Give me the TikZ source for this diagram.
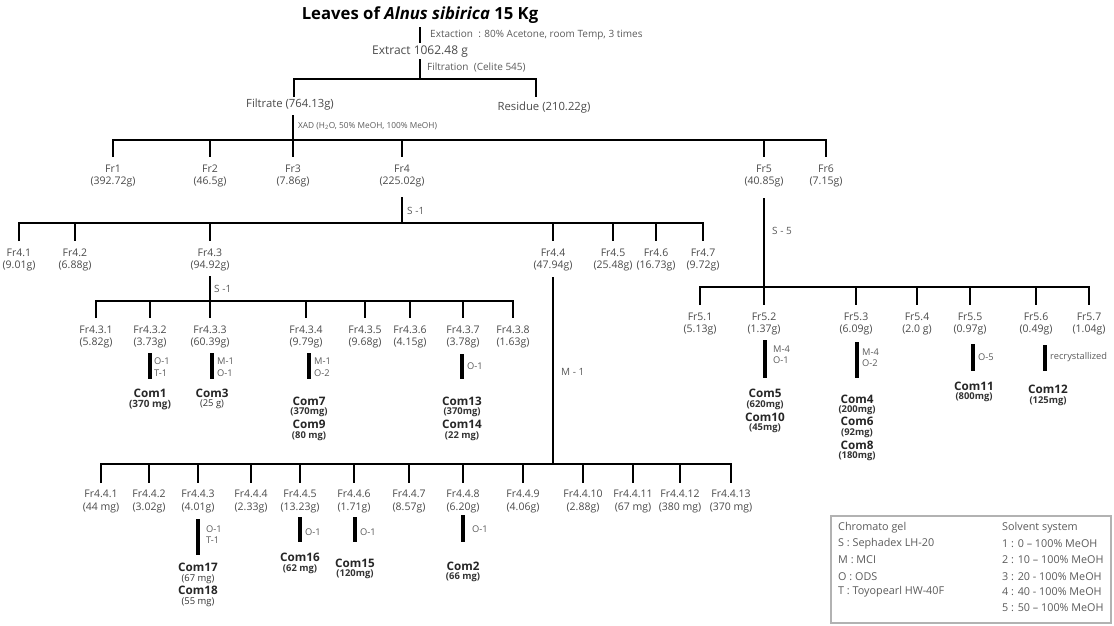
\documentclass[tikz,border=0pt]{standalone}
\usepackage{fontspec}
\setmainfont{Open Sans}
\usetikzlibrary{calc}
\definecolor{labc}{HTML}{4A4A4A}
\definecolor{stepc}{HTML}{5A5A5A}
\tikzset{
  fr/.style={font=\fontsize{10.5}{12.5}\selectfont, text=labc, align=center, inner sep=0pt},
  ttl/.style={font=\fontsize{16.7}{18}\selectfont\bfseries, inner sep=0pt},
  mid/.style={font=\fontsize{12}{13}\selectfont, text=labc, inner sep=0pt},
  midsm/.style={font=\fontsize{11.3}{13}\selectfont, text=labc, inner sep=0pt},
  note/.style={font=\fontsize{10}{11}\selectfont, text=stepc, anchor=west, inner sep=0pt, align=left},
  stepl/.style={font=\fontsize{9.3}{11.5}\selectfont, text=stepc, anchor=west, inner sep=0pt, align=left},
  cname/.style={font=\fontsize{11.7}{13}\selectfont\bfseries, text=black!85, inner sep=0pt},
  camt/.style={font=\fontsize{9.4}{10}\selectfont\bfseries, text=black!80, inner sep=0pt},
  camtr/.style={font=\fontsize{9.4}{10}\selectfont, text=black!80, inner sep=0pt},
  tree/.style={line width=2.7pt},
  sstem/.style={line width=3.1pt},
  leg/.style={font=\fontsize{10.8}{12}\selectfont, text=stepc, anchor=west, inner sep=0pt},
}
\begin{document}
\begin{tikzpicture}[x=1pt,y=-1pt]
\useasboundingbox (0,0) rectangle (1114,625);
% ---- top ----
\node[ttl] (title) at (420,15) {Leaves of \textit{Alnus sibirica} 15 Kg};
\node[note] (extl) at (430,35) {Extaction\ \ : 80\% Acetone, room Temp, 3 times};
\node[mid] (ext) at (420,52) {Extract 1062.48 g};
\node[note] (filtl) at (427,67) {Filtration\ \ (Celite 545)};
\node[midsm] (filt) at (290,105) {Filtrate (764.13g)};
\node[midsm] (res) at (544,108) {Residue (210.22g)};
\node[note, font=\fontsize{8.3}{9}\selectfont] (xadl) at (298,126) {XAD (H\textsubscript{2}O, 50\% MeOH, 100\% MeOH)};
\draw[tree] (title |- 0,27) -- (ext |- 0,43);
\draw[tree] (ext |- 0,59) -- (ext |- 0,79);
\draw[tree] (294,97) coordinate (b1l) |- (536,79) coordinate (b1r) -- (b1r |- 0,97);
% ---- Fr row ----
\node[fr] (fr1) at (113,176) {Fr1\\(392.72g)};
\node[fr] (fr2) at (210,176) {Fr2\\(46.5g)};
\node[fr] (fr3) at (293,176) {Fr3\\(7.86g)};
\node[fr] (fr4) at (402,176) {Fr4\\(225.02g)};
\node[fr] (fr5) at (764,176) {Fr5\\(40.85g)};
\node[fr] (fr6) at (826,176) {Fr6\\(7.15g)};
\draw[tree] (fr3 |- 0,115) -- (fr3 |- 0,157);
\draw[tree] (fr1 |- 0,157) |- (fr6 |- 0,140) -- (fr6 |- 0,157);
\foreach \n in {fr2,fr4,fr5} \draw[tree] (\n |- 0,140) -- (\n |- 0,157);
% ---- Fr4 row ----
\draw[tree] (fr4 |- 0,197) -- (fr4 |- 0,223);
\node[note] (s1a) at (407,211) {S -1};
\node[fr] (f41) at (19,260) {Fr4.1\\(9.01g)};
\node[fr] (f42) at (75,260) {Fr4.2\\(6.88g)};
\node[fr] (f43) at (210,260) {Fr4.3\\(94.92g)};
\node[fr] (f44) at (553,260) {Fr4.4\\(47.94g)};
\node[fr] (f45) at (613,260) {Fr4.5\\(25.48g)};
\node[fr] (f46) at (656,260) {Fr4.6\\(16.73g)};
\node[fr] (f47) at (703,260) {Fr4.7\\(9.72g)};
\draw[tree] (f41 |- 0,241) |- (f47 |- 0,223) -- (f47 |- 0,241);
\foreach \n in {f42,f43,f44,f45,f46} \draw[tree] (\n |- 0,223) -- (\n |- 0,241);
% ---- Fr4.3 row ----
\draw[tree] (f43 |- 0,276) -- (f43 |- 0,301);
\node[note] (s1b) at (214,289) {S -1};
\node[fr] (f431) at (96,337) {Fr4.3.1\\(5.82g)};
\node[fr] (f432) at (150,337) {Fr4.3.2\\(3.73g)};
\node[fr] (f433) at (210,337) {Fr4.3.3\\(60.39g)};
\node[fr] (f434) at (306,337) {Fr4.3.4\\(9.79g)};
\node[fr] (f435) at (365,337) {Fr4.3.5\\(9.68g)};
\node[fr] (f436) at (410,337) {Fr4.3.6\\(4.15g)};
\node[fr] (f437) at (463,337) {Fr4.3.7\\(3.78g)};
\node[fr] (f438) at (513,337) {Fr4.3.8\\(1.63g)};
\draw[tree] (f431 |- 0,318) |- (f438 |- 0,301) -- (f438 |- 0,318);
\foreach \n in {f432,f433,f434,f435,f436,f437} \draw[tree] (\n |- 0,301) -- (\n |- 0,318);
% Fr4.3 compounds
\node[cname] (c1) at (150,393) {Com1};
\node[camt, font=\fontsize{10}{11}\selectfont\bfseries] (c1a) at (150,405) {(370 mg)};
\draw[sstem] (f432 |- 0,353) -- (c1 |- 0,379);
\node[stepl] (o1) at (154,367) {O-1\\T-1};
\node[cname] (c3) at (212,393) {Com3};
\node[camtr] (c3a) at (212,404.5) {(25 g)};
\draw[sstem] (c3 |- 0,353) -- (c3 |- 0,379);
\node[stepl] (o3) at (217,367) {M-1\\O-1};
\node[cname] (c7) at (309,401) {Com7};
\node[camt] (c7a) at (309,412.5) {(370mg)};
\node[cname] (c9) at (309,424.5) {Com9};
\node[camt] (c9a) at (309,436) {(80 mg)};
\draw[sstem] (c7 |- 0,353) -- (c7 |- 0,379);
\node[stepl] (o7) at (314,367) {M-1\\O-2};
\node[cname] (c13) at (462,401) {Com13};
\node[camt] (c13a) at (462,412.5) {(370mg)};
\node[cname] (c14) at (462,424.5) {Com14};
\node[camt] (c14a) at (462,436) {(22 mg)};
\draw[sstem] (c13 |- 0,354) -- (c13 |- 0,379);
\node[stepl] (o13) at (467,366) {O-1};
% ---- Fr4.4 row ----
\draw[tree] (f44 |- 0,277) -- (f44 |- 0,464);
\node[note] (m1) at (561,372) {M - 1};
\node[fr] (f441) at (101,501.5) {Fr4.4.1\\(44 mg)};
\node[fr] (f442) at (149,501.5) {Fr4.4.2\\(3.02g)};
\node[fr] (f443) at (198,501.5) {Fr4.4.3\\(4.01g)};
\node[fr] (f444) at (251,501.5) {Fr4.4.4\\(2.33g)};
\node[fr] (f445) at (300,501.5) {Fr4.4.5\\(13.23g)};
\node[fr] (f446) at (354,501.5) {Fr4.4.6\\(1.71g)};
\node[fr] (f447) at (409,501.5) {Fr4.4.7\\(8.57g)};
\node[fr] (f448) at (463,501.5) {Fr4.4.8\\(6.20g)};
\node[fr] (f449) at (523,501.5) {Fr4.4.9\\(4.06g)};
\node[fr] (f4410) at (583,501.5) {Fr4.4.10\\(2.88g)};
\node[fr] (f4411) at (633,501.5) {Fr4.4.11\\(67 mg)};
\node[fr] (f4412) at (680,501.5) {Fr4.4.12\\(380 mg)};
\node[fr] (f4413) at (731,501.5) {Fr4.4.13\\(370 mg)};
\draw[tree] (f441 |- 0,483) |- (f4413 |- 0,464) -- (f4413 |- 0,483);
\foreach \n in {f442,f443,f444,f445,f446,f447,f448,f449,f4410,f4411,f4412} \draw[tree] (\n |- 0,464) -- (\n |- 0,483);
% Fr4.4 compounds
\node[cname] (c17) at (198,567) {Com17};
\node[camtr] (c17a) at (198,579) {(67 mg)};
\node[cname] (c18) at (198,590.5) {Com18};
\node[camtr] (c18a) at (198,602) {(55 mg)};
\draw[sstem] (f443 |- 0,519) -- (c17 |- 0,555);
\node[stepl] (o17) at (206,534.5) {O-1\\T-1};
\node[cname] (c16) at (300,557) {Com16};
\node[camt] (c16a) at (300,569) {(62 mg)};
\draw[sstem] (f445 |- 0,517) -- (c16 |- 0,542);
\node[stepl] (o16) at (305,532) {O-1};
\node[cname] (c15) at (355,563) {Com15};
\node[camt] (c15a) at (355,574.5) {(120mg)};
\draw[sstem] (c15 |- 0,517) -- (c15 |- 0,542);
\node[stepl] (o15) at (360,532) {O-1};
\node[cname] (c2) at (463,566) {Com2};
\node[camt] (c2a) at (463,577.5) {(66 mg)};
\draw[sstem] (f448 |- 0,515) -- (c2 |- 0,542);
\node[stepl] (o2) at (472,529) {O-1};
% ---- Fr5 row ----
\draw[tree] (fr5 |- 0,198) -- (fr5 |- 0,287);
\node[note] (s5) at (772,231) {S - 5};
\node[fr] (f51) at (700,324) {Fr5.1\\(5.13g)};
\node[fr] (f52) at (764,324) {Fr5.2\\(1.37g)};
\node[fr] (f53) at (856,324) {Fr5.3\\(6.09g)};
\node[fr] (f54) at (917,324) {Fr5.4\\(2.0 g)};
\node[fr] (f55) at (970,324) {Fr5.5\\(0.97g)};
\node[fr] (f56) at (1036,324) {Fr5.6\\(0.49g)};
\node[fr] (f57) at (1089,324) {Fr5.7\\(1.04g)};
\draw[tree] (f51 |- 0,305) |- (f57 |- 0,287) -- (f57 |- 0,305);
\foreach \n in {f52,f53,f54,f55,f56} \draw[tree] (\n |- 0,287) -- (\n |- 0,305);
% Fr5 compounds
\node[cname] (c5) at (765,393) {Com5};
\node[camt] (c5a) at (765,405) {(620mg)};
\node[cname] (c10) at (765,417) {Com10};
\node[camt] (c10a) at (765,428.5) {(45mg)};
\draw[sstem] (c5 |- 0,340) -- (c5 |- 0,378);
\node[stepl] (o5) at (773,354.5) {M-4\\O-1};
\node[cname] (c4) at (857,399) {Com4};
\node[camt] (c4a) at (857,410) {(200mg)};
\node[cname] (c6) at (857,421.5) {Com6};
\node[camt] (c6a) at (857,433) {(92mg)};
\node[cname] (c8) at (857,445) {Com8};
\node[camt] (c8a) at (857,456.5) {(180mg)};
\draw[sstem] (c4 |- 0,342) -- (c4 |- 0,378);
\node[stepl] (o4) at (862,357.5) {M-4\\O-2};
\node[cname] (c11) at (974,386) {Com11};
\node[camt] (c11a) at (974,397.5) {(800mg)};
\draw[sstem] (973,344) coordinate (s11) -- (973,371);
\node[stepl] (o11) at (978,357) {O-5};
\node[cname] (c12) at (1048,389.5) {Com12};
\node[camt] (c12a) at (1048,401) {(125mg)};
\draw[sstem] (1045,345) coordinate (s12) -- (1045,371);
\node[stepl, font=\fontsize{9.3}{10}\selectfont] (rc) at (1050,357) {recrystallized};
% ---- legend ----
\node[draw=gray!60, line width=1.2pt, minimum width=280pt, minimum height=107pt, inner sep=0pt] (legbox) at (971,569.5) {};
\node[leg] (l1) at (838,528) {Chromato gel};
\node[leg] (l2) at (838,544) {S : Sephadex LH-20};
\node[leg] (l3) at (838,560) {M : MCI};
\node[leg] (l4) at (838,577) {O : ODS};
\node[leg] (l5) at (838,592) {T : Toyopearl HW-40F};
\node[leg] (r1) at (1002,528) {Solvent system};
\node[leg] (r2) at (1002,544) {1 : 0 -- 100\% MeOH};
\node[leg] (r3) at (1002,560) {2 : 10 -- 100\% MeOH};
\node[leg] (r4) at (1002,577) {3 : 20 - 100\% MeOH};
\node[leg] (r5) at (1002,592) {4 : 40 - 100\% MeOH};
\node[leg] (r6) at (1002,608) {5 : 50 -- 100\% MeOH};
\end{tikzpicture}
\end{document}
